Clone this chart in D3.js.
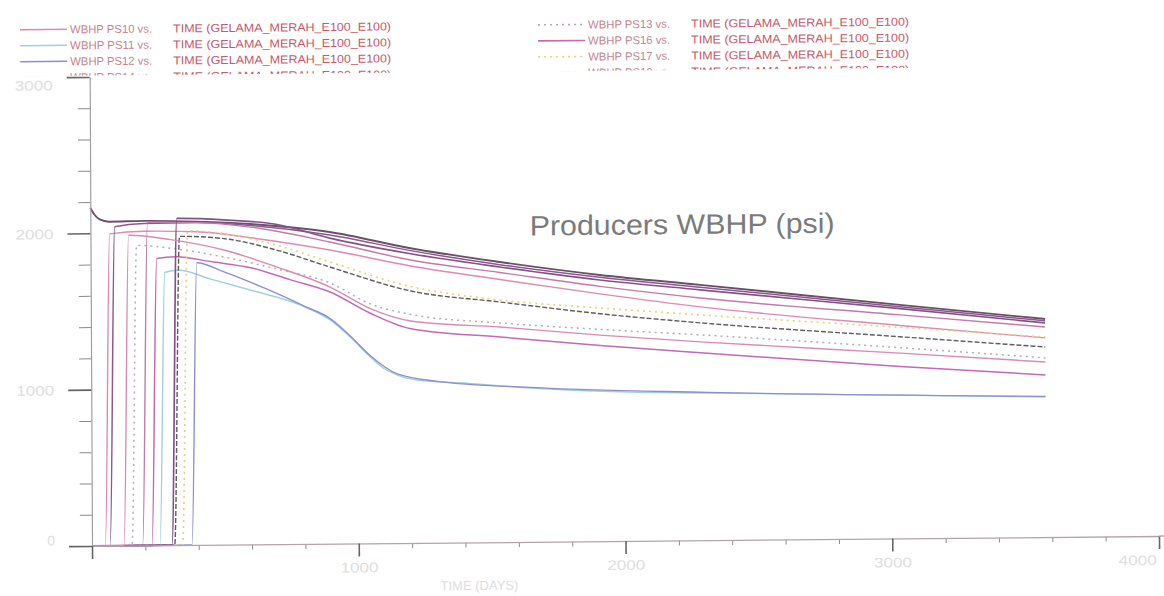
<!DOCTYPE html>
<html>
<head>
<meta charset="utf-8">
<script src="https://cdn.jsdelivr.net/npm/d3@7"></script>
<style>
  html, body { margin: 0; padding: 0; background: #fff; }
  svg { display: block; }
  text { font-family: "Liberation Sans", Arial, sans-serif; }
</style>
</head>
<body>
<svg id="chart" width="1164" height="596"></svg>
<script>
// ---- data: WBHP (psi) vs. TIME (days) for each producer ----
const ps10 = [[0,0],[50,0],[72,1995],[200,2010],[400,2003],[600,1962],[897,1879],[1200,1772],[1534,1680],[1909,1582],[2284,1493],[3033,1362],[3577,1274]];
const ps11 = [[0,0],[255,0],[278,1745],[330,1758],[450,1700],[597,1628],[785,1529],[897,1431],[972,1321],[1047,1192],[1095,1121],[1148,1075],[1223,1042],[1396,1020],[1646,984],[2021,952],[2310,942],[3577,896]];
const ps12 = [[0,0],[375,0],[398,1805],[500,1745],[650,1640],[800,1522],[897,1440],[972,1328],[1047,1200],[1148,1082],[1300,1032],[1646,988],[2310,946],[3577,900]];
const ps14 = [[0,2162],[15,2120],[35,2088],[70,2073],[200,2076],[400,2068],[600,2050],[897,1994],[1200,1885],[1534,1792],[1909,1703],[2284,1634],[3033,1494],[3577,1395]];
const ps15 = [[0,0],[68,0],[91,2040],[200,2060],[400,2062],[600,2040],[897,1975],[1200,1870],[1534,1775],[1909,1688],[2284,1618],[3033,1482],[3577,1383]];
const ps18 = [[0,0],[190,0],[214,2067],[400,2062],[600,2030],[897,1930],[1200,1810],[1534,1725],[1909,1630],[2284,1550],[3033,1430],[3577,1344]];
const ps13 = [[0,0],[150,0],[173,1920],[300,1900],[500,1840],[700,1760],[897,1668],[1050,1530],[1200,1462],[1534,1402],[1909,1355],[2284,1314],[3033,1220],[3577,1146]];
const ps16 = [[0,0],[225,0],[248,1835],[320,1845],[450,1812],[600,1770],[750,1690],[897,1610],[1050,1470],[1200,1370],[1534,1312],[1909,1252],[2284,1199],[3033,1100],[3577,1037]];
const ps17 = [[0,0],[340,0],[364,2010],[500,1990],[700,1912],[897,1802],[1200,1640],[1534,1549],[1909,1492],[2284,1442],[3033,1350],[3577,1280]];
const ps19 = [[0,0],[310,0],[334,1975],[500,1958],[700,1880],[897,1770],[1200,1612],[1534,1536],[1909,1455],[2284,1391],[3033,1290],[3577,1216]];
const ps20 = [[0,0],[300,0],[324,2090],[500,2078],[700,2045],[897,1955],[1200,1850],[1534,1760],[1909,1671],[2284,1602],[3033,1470],[3577,1370]];
const ps21 = [[0,0],[120,0],[143,1985],[300,1955],[500,1885],[700,1772],[897,1642],[1050,1500],[1200,1420],[1534,1376],[1909,1318],[2284,1269],[3033,1185],[3577,1120]];

// legend order: column by column, six rows per column
const wellNames  = ["PS10","PS11","PS12","PS14","PS15","PS18","PS13","PS16","PS17","PS19","PS20","PS21"];
const wellValues = [ps10, ps11, ps12, ps14, ps15, ps18, ps13, ps16, ps17, ps19, ps20, ps21];
const wellColors = ["#e089b2","#9fd0dc","#8c8fd2","#6e4f68","#8a5a8c","#c27aaa","#b9a8bd","#c468b8","#e2d47a","#5e5e5e","#87508c","#d98cb3"];
const wellDashes = [null, null, null, null, null, null, "2,4", null, "2,4", "5,2", null, null];
const wellWidths = [1.4, 1.4, 1.4, 1.9, 1.5, 1.4, 1.5, 1.5, 1.6, 1.4, 1.7, 1.4];

const caseName = "(GELAMA_MERAH_E100_E100)";
const chartTitle = "Producers WBHP (psi)";
const xTitle = "TIME (DAYS)";
const yMajorTicks = [0, 1000, 2000, 3000];
const yMinorTicks = [200,400,600,800,1200,1400,1600,1800,2200,2400,2600,2800];
const xMajorTicks = [0, 1000, 2000, 3000, 4000];
const xMinorTicks = [200,400,600,800,1200,1400,1600,1800,2200,2400,2600,2800,3200,3400,3600,3800];

// ---- drawing ----
const svg = d3.select("#chart");
// the whole sheet sits with a slight skew
const root = svg.append("g")
  .attr("transform", "translate(580,300) matrix(1,-0.0093,0.005,1,0,0) translate(-580,-300)");

const x = d3.scaleLinear().domain([0, 4000]).range([90.8, 1157.8]);
const y = d3.scaleLinear().domain([0, 3000]).range([541.4, 72.4]);

// legend (two columns, the lower rows run under the plot frame)
svg.append("defs").append("clipPath").attr("id", "legendClip")
  .append("rect").attr("x", 0).attr("y", 0).attr("width", 1164).attr("height", 71);

const legend = root.append("g").attr("clip-path", "url(#legendClip)");
const colX = [21.4, 539.4];
const rowH = 16, row0 = 24.5, perCol = 6;
wellNames.forEach((name, i) => {
  const c = Math.floor(i / perCol), r = i % perCol;
  const lx = colX[c], ly = row0 + r * rowH;
  const g = legend.append("g");
  g.append("line").attr("x1", lx).attr("x2", lx + 47).attr("y1", ly).attr("y2", ly)
    .attr("stroke", wellColors[i]).attr("stroke-width", 1.6)
    .attr("stroke-dasharray", wellDashes[i]);
  g.append("text").attr("x", lx + 50).attr("y", ly).attr("dy", "0.36em")
    .attr("font-size", 11.5).attr("fill", "#c48592")
    .attr("textLength", 82).attr("lengthAdjust", "spacingAndGlyphs")
    .text("WBHP " + name + " vs.");
  g.append("text").attr("x", lx + 153).attr("y", ly).attr("dy", "0.36em")
    .attr("font-size", 11.5).attr("fill", "#c6596a")
    .attr("textLength", 218).attr("lengthAdjust", "spacingAndGlyphs")
    .text("TIME " + caseName);
});

// series
const line = d3.line().x(d => x(d[0])).y(d => y(d[1])).curve(d3.curveMonotoneX);
const plot = root.append("g");
wellValues.forEach((vals, i) => {
  plot.append("path").datum(vals)
    .attr("d", line)
    .attr("fill", "none")
    .attr("stroke", wellColors[i])
    .attr("stroke-width", wellWidths[i])
    .attr("stroke-dasharray", wellDashes[i])
    .attr("stroke-linejoin", "round");
});

// axes
const labelColor = "#dedede";
const yMinor = root.append("g").attr("transform", `translate(${x(0)},0)`)
  .call(d3.axisLeft(y).tickValues(yMinorTicks).tickSize(12).tickFormat(""));
yMinor.select(".domain").remove();
yMinor.selectAll("line").attr("stroke", "#8a8a8a");

const yMajor = root.append("g").attr("transform", `translate(${x(0)},0)`)
  .call(d3.axisLeft(y).tickValues(yMajorTicks).tickSize(23).tickSizeOuter(0).tickPadding(14)
    .tickFormat(d3.format("d")));
yMajor.select(".domain").attr("stroke", "#a0a0a0").attr("stroke-width", 1.2);
yMajor.selectAll("line").attr("stroke", "#666").attr("stroke-width", 1.6);
yMajor.selectAll("text").attr("fill", labelColor).attr("font-size", 14)
  .attr("textLength", d => d === 0 ? null : 38).attr("lengthAdjust", "spacingAndGlyphs")
  .attr("dy", d => d === 3000 ? "0.9em" : d === 0 ? "-0.1em" : "0.36em");

const xMinor = root.append("g").attr("transform", `translate(0,${y(0)})`)
  .call(d3.axisBottom(x).tickValues(xMinorTicks).tickSize(5).tickFormat(""));
xMinor.select(".domain").remove();
xMinor.selectAll("line").attr("stroke", "#8a8a8a");

const xMajor = root.append("g").attr("transform", `translate(0,${y(0)})`)
  .call(d3.axisBottom(x).tickValues(xMajorTicks).tickSize(13).tickSizeOuter(0).tickPadding(6)
    .tickFormat(d => d === 0 ? "" : d3.format("d")(d)));
xMajor.select(".domain").attr("stroke", "#b8a2aa").attr("stroke-width", 1.3);
xMajor.selectAll("line").attr("stroke", "#666").attr("stroke-width", 1.6);
xMajor.selectAll("text").attr("fill", labelColor).attr("font-size", 14)
  .attr("textLength", d => d === 0 ? null : 38).attr("lengthAdjust", "spacingAndGlyphs")
  .attr("text-anchor", d => d === 4000 ? "end" : "middle")
  .attr("dx", d => d === 4000 ? -3 : 0);
// the axis line runs on to the sheet edge
root.append("line").attr("x1", x(4000)).attr("x2", 1175).attr("y1", y(0)).attr("y2", y(0))
  .attr("stroke", "#b8a2aa").attr("stroke-width", 1.3);

// titles
root.append("text").attr("x", 530).attr("y", 235)
  .attr("font-size", 28).attr("fill", "#7b7b7b")
  .attr("textLength", 305).attr("lengthAdjust", "spacingAndGlyphs")
  .text(chartTitle);

root.append("text").attr("x", 478).attr("y", 589).attr("text-anchor", "middle")
  .attr("font-size", 13).attr("fill", labelColor)
  .text(xTitle);
</script>
</body>
</html>
